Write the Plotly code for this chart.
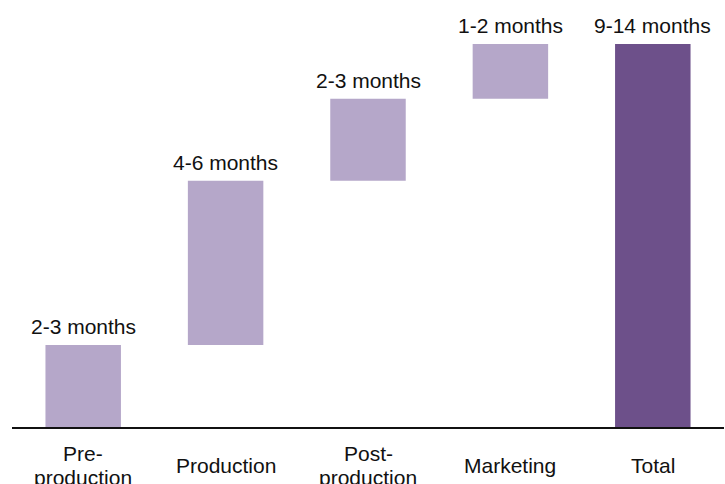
import plotly.graph_objects as go
import numpy as np

categories = ["Pre-<br>production", "Production", "Post-<br>production", "Marketing", "Total"]
values = [3, 6, 3, 2, 0]
measures = ["relative", "relative", "relative", "relative", "total"]
labels = ["2-3 months", "4-6 months", "2-3 months", "1-2 months", "9-14 months"]

FONT = "Liberation Sans, Arial, Helvetica, sans-serif"
TXT = "#111111"

fig = go.Figure(go.Waterfall(
    x=categories,
    y=values,
    measure=measures,
    cliponaxis=False,
    increasing=dict(marker=dict(color="#B5A7C9")),
    decreasing=dict(marker=dict(color="#B5A7C9")),
    totals=dict(marker=dict(color="#6D508A")),
    connector=dict(visible=False),
    hoverinfo="skip",
))

# bar-top labels at the cumulative top of each bar
running = 0.0
tops = []
for v, m in zip(values, measures):
    if m == "total":
        tops.append(running)
    else:
        running += v
        tops.append(running)

for cat, top, lab in zip(categories, tops, labels):
    fig.add_annotation(
        x=cat, xref="x", y=top, yref="y",
        text=lab, showarrow=False, yanchor="bottom", xanchor="center",
        yshift=5,
        font=dict(family=FONT, size=21, color=TXT),
    )

# category labels, each line placed explicitly
line_h = 24
for cat in categories:
    lines = cat.split("<br>")
    n = len(lines)
    for i, ln in enumerate(lines):
        fig.add_annotation(
            x=cat, xref="x", y=-0.1018, yref="paper",
            text=ln, showarrow=False, yanchor="middle", xanchor="center",
            yshift=((n - 1) / 2 - i) * line_h,
            font=dict(family=FONT, size=21, color=TXT),
        )

fig.update_layout(
    width=725, height=484,
    margin=dict(l=12, r=1, t=44, b=57),
    paper_bgcolor="white", plot_bgcolor="white",
    waterfallgap=0.47,
    showlegend=False,
    font=dict(family=FONT),
)
fig.update_xaxes(showline=True, linecolor="#111111", linewidth=2, showticklabels=False,
                 ticks="", showgrid=False, zeroline=False, range=[-0.5, 4.5])
fig.update_yaxes(visible=False, range=[0, 14], showgrid=False, zeroline=False)

fig.write_html("out.html")
